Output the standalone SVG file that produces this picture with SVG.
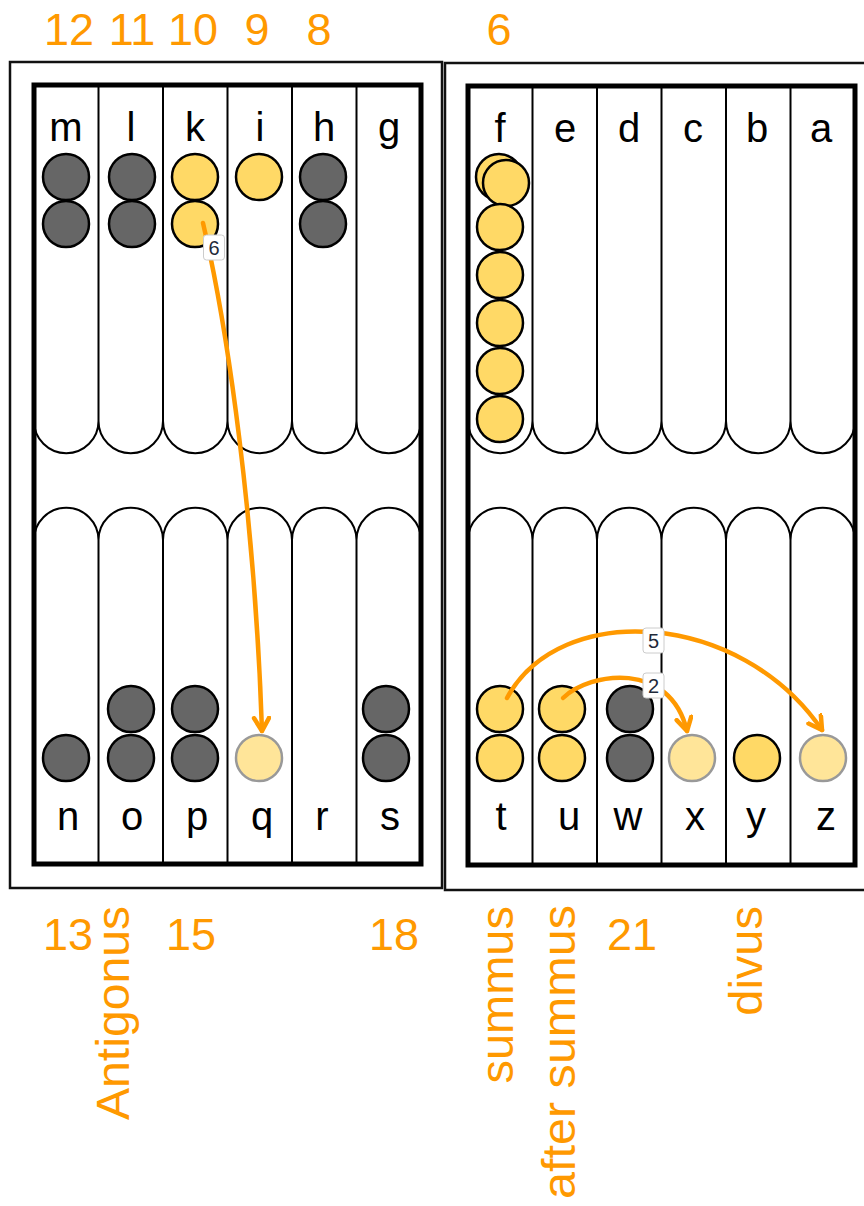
<svg xmlns="http://www.w3.org/2000/svg" width="864" height="1206" viewBox="0 0 864 1206">
  <style>
    .outer { fill: none; stroke: #111; stroke-width: 2.5; }
    .inner { fill: none; stroke: #000; stroke-width: 5; }
    .cols { fill: none; stroke: #000; stroke-width: 2; }
    .pt { font-family: "Liberation Sans", Arial, sans-serif; font-size: 40px; fill: #000; text-anchor: middle; }
    .num { font-family: "Liberation Sans", Arial, sans-serif; font-size: 45px; fill: #FF9900; text-anchor: middle; }
    .side { font-family: "Liberation Sans", Arial, sans-serif; font-size: 47px; fill: #FF9900; text-anchor: end; }
    .dark { fill: #666666; stroke: #000; stroke-width: 2.5; }
    .yel { fill: #FFD966; stroke: #000; stroke-width: 2.5; }
    .ghost { fill: #FFE599; stroke: #999; stroke-width: 2.5; }
    .move { fill: none; stroke: #FF9900; stroke-width: 4.5; stroke-linecap: round; marker-end: url(#ah); }
    .tag rect { fill: #fff; stroke: #ccc; stroke-width: 1; }
    .tag text { font-family: "Liberation Sans", Arial, sans-serif; font-size: 20px; fill: #1f2a3a; text-anchor: middle; }
  </style>
  <defs>
    <marker id="ah" markerUnits="userSpaceOnUse" markerWidth="22" markerHeight="22" refX="15" refY="9" orient="auto">
      <path d="M2,1.5 L15,9 L2,16.5" fill="none" stroke="#FF9900" stroke-width="4.5" stroke-linejoin="round" stroke-linecap="round"/>
    </marker>
  </defs>
  <rect width="864" height="1206" fill="#fff"/>

  <!-- left half of the board -->
  <g id="board-left">
    <rect class="outer" x="10" y="62" width="432" height="826"/>
    <path class="cols" d="M34,85 V421 A32.25,32.25 0 0 0 98.5,421 V85 M98.5,85 V421 A32.25,32.25 0 0 0 163,421 V85 M163,85 V421 A32.25,32.25 0 0 0 227.5,421 V85 M227.5,85 V421 A32.25,32.25 0 0 0 292,421 V85 M292,85 V421 A32.25,32.25 0 0 0 356.5,421 V85 M356.5,85 V421 A32.25,32.25 0 0 0 421,421 V85"/>
    <path class="cols" d="M34,864 V540 A32.25,32.25 0 0 1 98.5,540 V864 M98.5,864 V540 A32.25,32.25 0 0 1 163,540 V864 M163,864 V540 A32.25,32.25 0 0 1 227.5,540 V864 M227.5,864 V540 A32.25,32.25 0 0 1 292,540 V864 M292,864 V540 A32.25,32.25 0 0 1 356.5,540 V864 M356.5,864 V540 A32.25,32.25 0 0 1 421,540 V864"/>
    <rect class="inner" x="34" y="85" width="387" height="779"/>
    <text class="pt" x="66" y="141">m</text>
    <text class="pt" x="131" y="141">l</text>
    <text class="pt" x="195" y="141">k</text>
    <text class="pt" x="260" y="141">i</text>
    <text class="pt" x="324" y="141">h</text>
    <text class="pt" x="389" y="141">g</text>
    <text class="pt" x="68" y="830">n</text>
    <text class="pt" x="132" y="830">o</text>
    <text class="pt" x="197" y="830">p</text>
    <text class="pt" x="262" y="830">q</text>
    <text class="pt" x="322" y="830">r</text>
    <text class="pt" x="390" y="830">s</text>
  </g>

  <!-- right half of the board -->
  <g id="board-right">
    <rect class="outer" x="445" y="63" width="430" height="827"/>
    <path class="cols" d="M468,86 V421 A32.25,32.25 0 0 0 532.5,421 V86 M532.5,86 V421 A32.25,32.25 0 0 0 597,421 V86 M597,86 V421 A32.25,32.25 0 0 0 661.5,421 V86 M661.5,86 V421 A32.25,32.25 0 0 0 726,421 V86 M726,86 V421 A32.25,32.25 0 0 0 790.5,421 V86 M790.5,86 V421 A32.25,32.25 0 0 0 855,421 V86"/>
    <path class="cols" d="M468,865 V540 A32.25,32.25 0 0 1 532.5,540 V865 M532.5,865 V540 A32.25,32.25 0 0 1 597,540 V865 M597,865 V540 A32.25,32.25 0 0 1 661.5,540 V865 M661.5,865 V540 A32.25,32.25 0 0 1 726,540 V865 M726,865 V540 A32.25,32.25 0 0 1 790.5,540 V865 M790.5,865 V540 A32.25,32.25 0 0 1 855,540 V865"/>
    <rect class="inner" x="468" y="86" width="387" height="779"/>
    <text class="pt" x="500" y="142">f</text>
    <text class="pt" x="565" y="142">e</text>
    <text class="pt" x="629" y="142">d</text>
    <text class="pt" x="693" y="142">c</text>
    <text class="pt" x="757" y="142">b</text>
    <text class="pt" x="821" y="142">a</text>
    <text class="pt" x="501" y="830">t</text>
    <text class="pt" x="569" y="830">u</text>
    <text class="pt" x="628" y="830">w</text>
    <text class="pt" x="695" y="830">x</text>
    <text class="pt" x="756" y="830">y</text>
    <text class="pt" x="826" y="830">z</text>
  </g>

  <!-- checkers -->
  <g id="point-m"><circle class="dark" cx="66" cy="177" r="23"/><circle class="dark" cx="66" cy="224" r="23"/></g>
  <g id="point-l"><circle class="dark" cx="132" cy="177" r="23"/><circle class="dark" cx="132" cy="224" r="23"/></g>
  <g id="point-k"><circle class="yel" cx="195" cy="177" r="23"/><circle class="yel" cx="195" cy="224" r="23"/></g>
  <g id="point-i"><circle class="yel" cx="259" cy="177" r="23"/></g>
  <g id="point-h"><circle class="dark" cx="323" cy="177" r="23"/><circle class="dark" cx="323" cy="224" r="23"/></g>
  <g id="point-f">
    <circle class="yel" cx="499" cy="177" r="23"/>
    <circle class="yel" cx="506" cy="183" r="23"/>
    <circle class="yel" cx="500" cy="227" r="23"/>
    <circle class="yel" cx="500" cy="275" r="23"/>
    <circle class="yel" cx="500" cy="323" r="23"/>
    <circle class="yel" cx="500" cy="371" r="23"/>
    <circle class="yel" cx="500" cy="419" r="23"/>
  </g>
  <g id="point-n"><circle class="dark" cx="66" cy="758" r="23"/></g>
  <g id="point-o"><circle class="dark" cx="131" cy="709" r="23"/><circle class="dark" cx="131" cy="758" r="23"/></g>
  <g id="point-p"><circle class="dark" cx="195" cy="709" r="23"/><circle class="dark" cx="195" cy="758" r="23"/></g>
  <g id="point-q"><circle class="ghost" cx="259" cy="758" r="23"/></g>
  <g id="point-s"><circle class="dark" cx="386" cy="709" r="23"/><circle class="dark" cx="386" cy="758" r="23"/></g>
  <g id="point-t"><circle class="yel" cx="500" cy="709" r="23"/><circle class="yel" cx="500" cy="758" r="23"/></g>
  <g id="point-u"><circle class="yel" cx="562" cy="709" r="23"/><circle class="yel" cx="562" cy="758" r="23"/></g>
  <g id="point-w"><circle class="dark" cx="630" cy="709" r="23"/><circle class="dark" cx="630" cy="758" r="23"/></g>
  <g id="point-x"><circle class="ghost" cx="692" cy="758" r="23"/></g>
  <g id="point-y"><circle class="yel" cx="757" cy="758" r="23"/></g>
  <g id="point-z"><circle class="ghost" cx="823" cy="758" r="23"/></g>

  <!-- moves -->
  <g id="moves">
    <path class="move" d="M203,223 C228,330 255,520 262,731"/>
    <path class="move" d="M507,698 C560,600 740,610 822,730"/>
    <path class="move" d="M563,698 C590,672 670,660 687,731"/>
    <g class="tag"><rect x="203.5" y="235" width="21" height="25" rx="3"/><text x="214" y="255">6</text></g>
    <g class="tag"><rect x="643" y="628" width="21" height="25" rx="3"/><text x="653.5" y="648">5</text></g>
    <g class="tag"><rect x="643" y="673" width="21" height="25" rx="3"/><text x="653.5" y="693">2</text></g>
  </g>

  <!-- point numbers and names -->
  <g id="numbers">
    <text class="num" x="69" y="45">12</text>
    <text class="num" x="132" y="45">11</text>
    <text class="num" x="193" y="45">10</text>
    <text class="num" x="257" y="45">9</text>
    <text class="num" x="319" y="45">8</text>
    <text class="num" x="499" y="45">6</text>
    <text class="num" x="68" y="950">13</text>
    <text class="num" x="191" y="950">15</text>
    <text class="num" x="394" y="950">18</text>
    <text class="num" x="632" y="950">21</text>
    <text class="side" transform="translate(129,906) rotate(-90)" textLength="214" lengthAdjust="spacingAndGlyphs">Antigonus</text>
    <text class="side" transform="translate(513,906) rotate(-90)">summus</text>
    <text class="side" transform="translate(575,905) rotate(-90)" textLength="294" lengthAdjust="spacingAndGlyphs">after summus</text>
    <text class="side" transform="translate(762,906) rotate(-90)">divus</text>
  </g>
</svg>
